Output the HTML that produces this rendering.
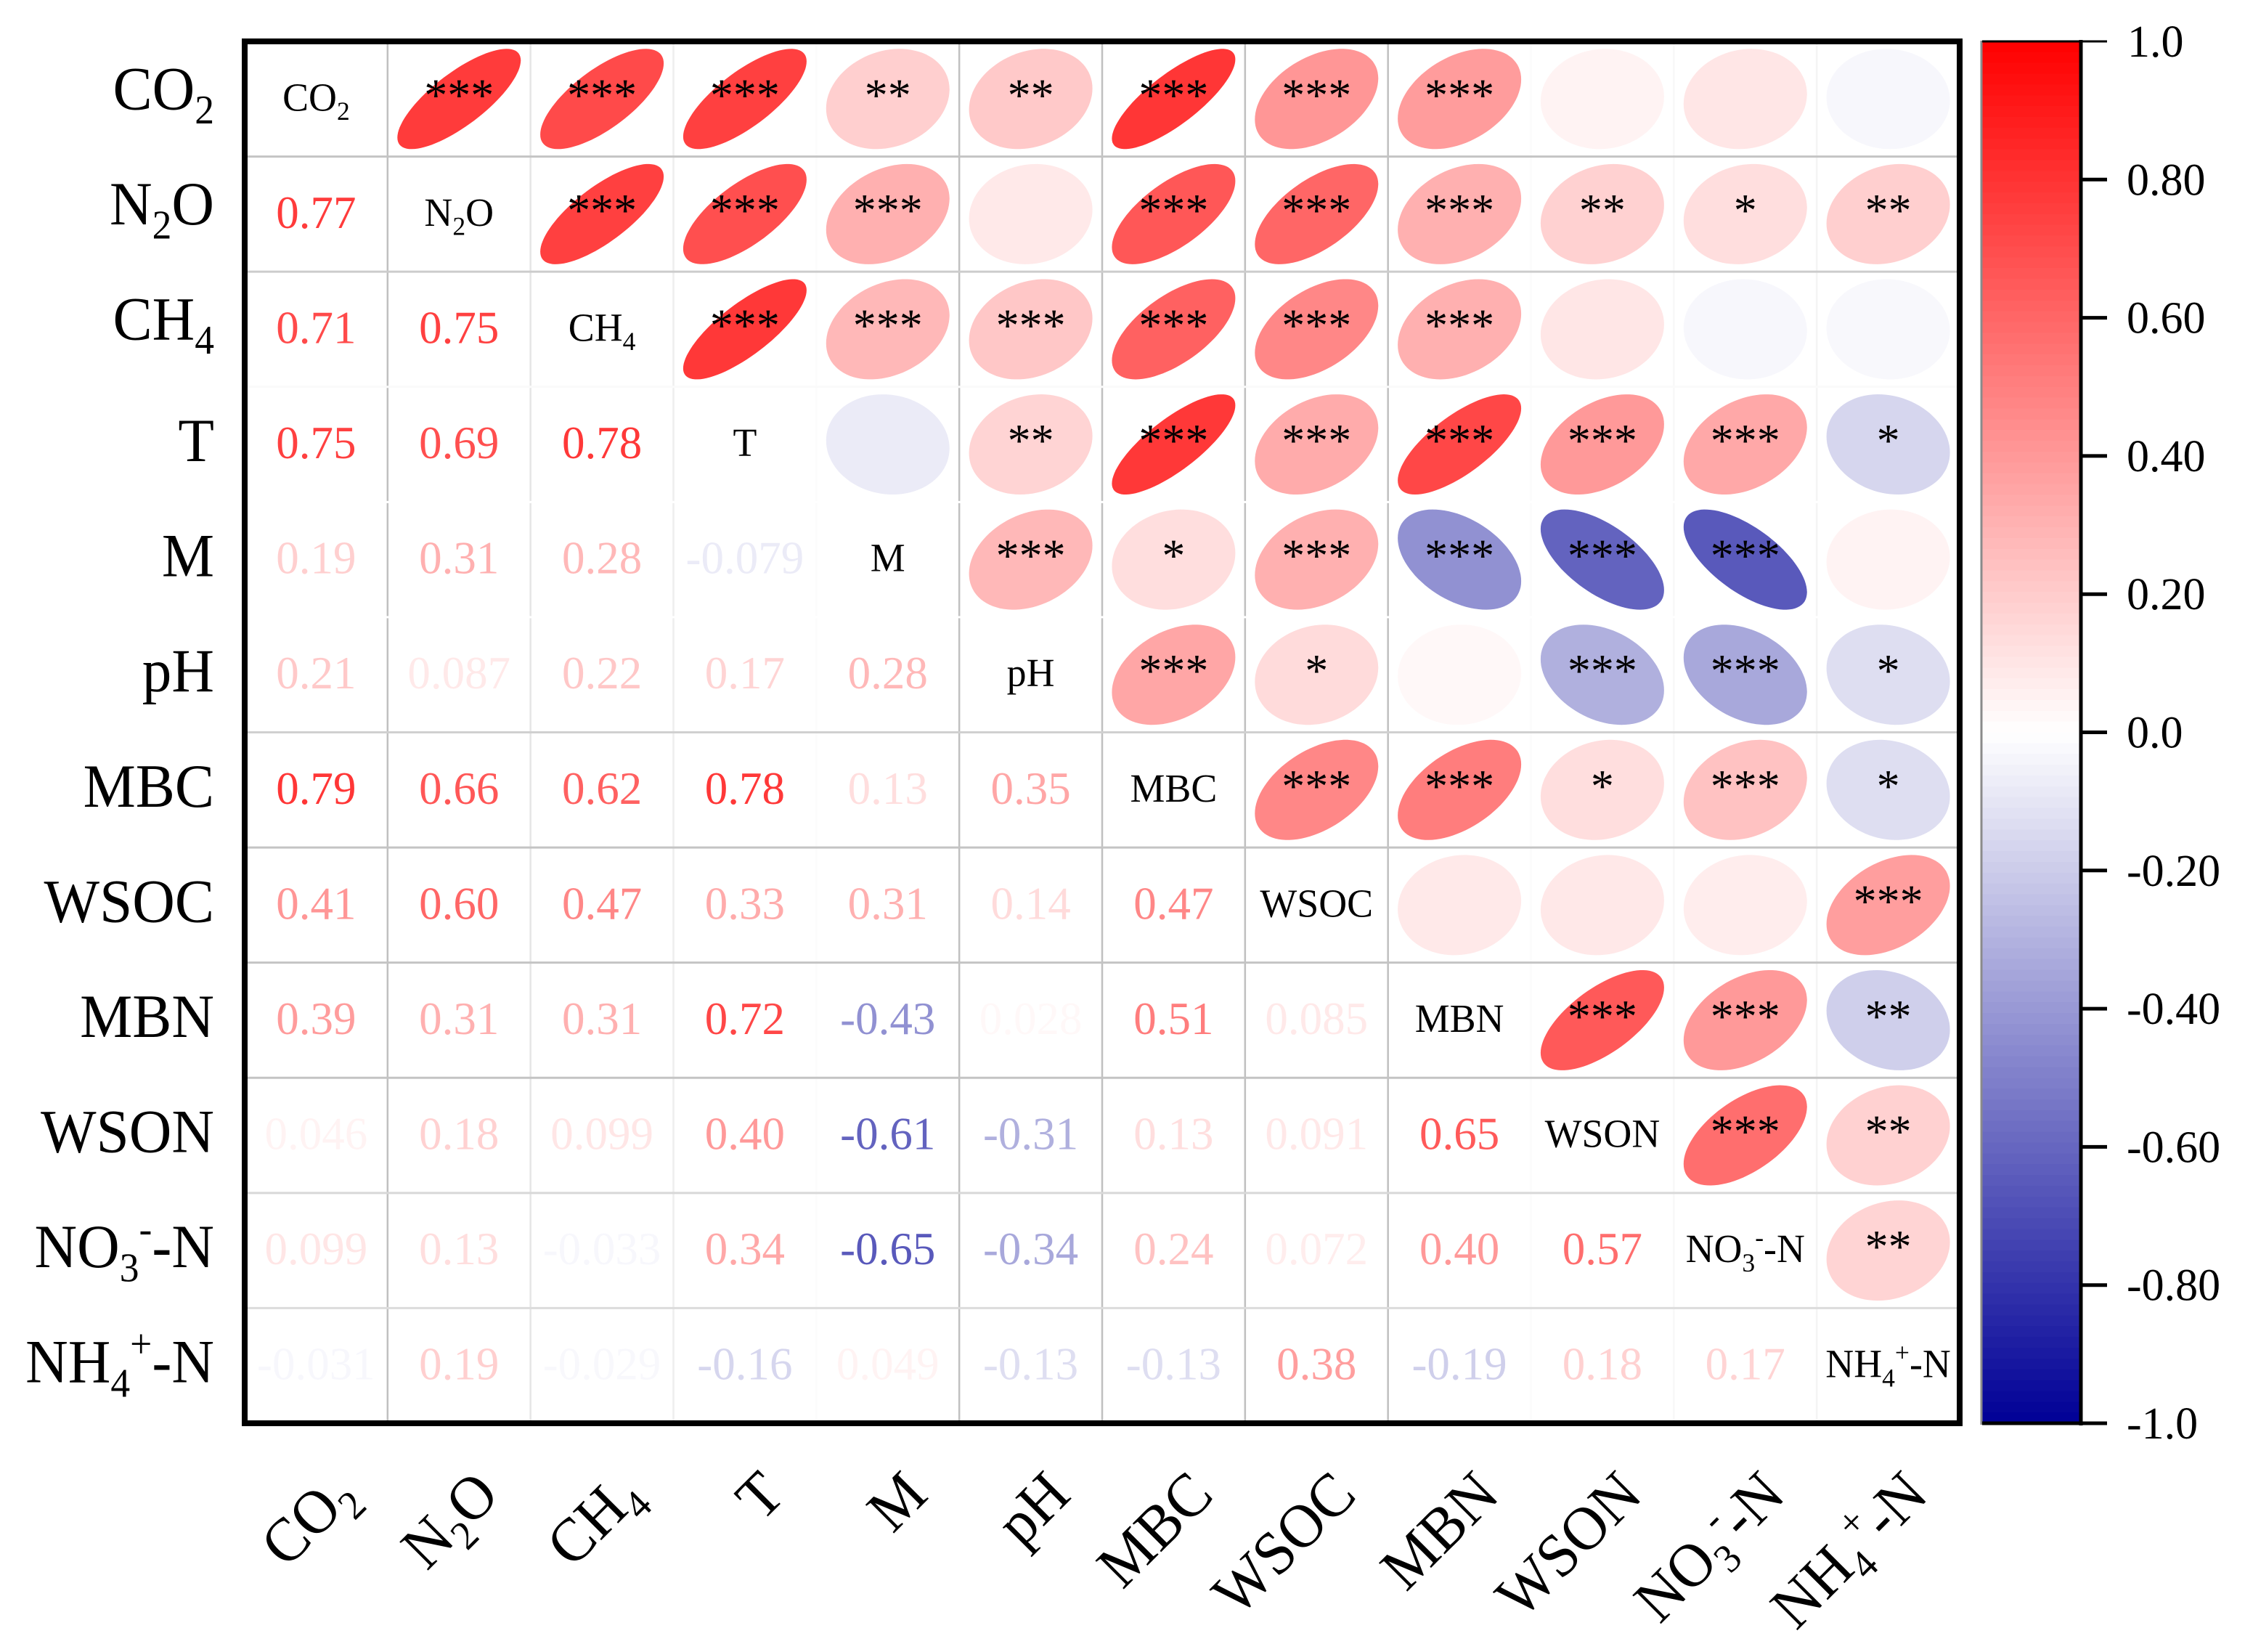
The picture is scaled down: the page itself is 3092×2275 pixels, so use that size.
<!DOCTYPE html>
<html lang="en">
<head>
<meta charset="utf-8">
<title>Correlation matrix</title>
<style>
html,body{margin:0;padding:0;background:#fff;}
svg{display:block;}
text{font-family:"Liberation Serif",serif;}
</style>
</head>
<body>
<svg id="chart" xmlns="http://www.w3.org/2000/svg" width="3092" height="2275" viewBox="0 0 3092 2275">
  <rect x="0" y="0" width="3092" height="2275" fill="#fff"></rect>
  <g id="grid"></g>
  <g id="ellipses"></g>
  <g id="stars"></g>
  <g id="values"></g>
  <g id="diag"></g>
  <g id="yaxis"></g>
  <g id="xaxis"></g>
  <rect x="337" y="57" width="2362" height="1903" fill="none" stroke="#000" stroke-width="8"></rect>
  <g id="colorbar"></g>
</svg>
<script>
// Variable labels ("_x" = subscript, "^x" = superscript)
const variables = ["CO_2","N_2O","CH_4","T","M","pH","MBC","WSOC","MBN","WSON","NO_3^--N","NH_4^+-N"];

// Lower-triangle correlation values, row by row
const corrN2O  = [0.77];
const corrCH4  = [0.71,0.75];
const corrT    = [0.75,0.69,0.78];
const corrM    = [0.19,0.31,0.28,-0.079];
const corrPH   = [0.21,0.087,0.22,0.17,0.28];
const corrMBC  = [0.79,0.66,0.62,0.78,0.13,0.35];
const corrWSOC = [0.41,0.60,0.47,0.33,0.31,0.14,0.47];
const corrMBN  = [0.39,0.31,0.31,0.72,-0.43,0.028,0.51,0.085];
const corrWSON = [0.046,0.18,0.099,0.40,-0.61,-0.31,0.13,0.091,0.65];
const corrNO3  = [0.099,0.13,-0.033,0.34,-0.65,-0.34,0.24,0.072,0.40,0.57];
const corrNH4  = [-0.031,0.19,-0.029,-0.16,0.049,-0.13,-0.13,0.38,-0.19,0.18,0.17];
const correlationRows = [[],corrN2O,corrCH4,corrT,corrM,corrPH,corrMBC,corrWSOC,corrMBN,corrWSON,corrNO3,corrNH4];

// Significance stars for the same pairs
const sigN2O  = [3];
const sigCH4  = [3,3];
const sigT    = [3,3,3];
const sigM    = [2,3,3,0];
const sigPH   = [2,0,3,2,3];
const sigMBC  = [3,3,3,3,1,3];
const sigWSOC = [3,3,3,3,3,1,3];
const sigMBN  = [3,3,3,3,3,0,3,0];
const sigWSON = [0,2,0,3,3,3,1,0,3];
const sigNO3  = [0,1,0,3,3,3,3,0,3,3];
const sigNH4  = [0,2,0,1,0,1,1,3,2,2,2];
const significanceRows = [[],sigN2O,sigCH4,sigT,sigM,sigPH,sigMBC,sigWSOC,sigMBN,sigWSON,sigNO3,sigNH4];

// Colorbar ticks
const colorbarTicks = [1,0.8,0.6,0.4,0.2,0,-0.2,-0.4,-0.6,-0.8,-1];
const colorbarTickLabels = ["1.0","0.80","0.60","0.40","0.20","0.0","-0.20","-0.40","-0.60","-0.80","-1.0"];

const NS = "http://www.w3.org/2000/svg";
const plotLeft = 337, plotTop = 57, plotRight = 2699, plotBottom = 1960;
const n = variables.length;
const cellW = (plotRight - plotLeft) / n;
const cellH = (plotBottom - plotTop) / n;
const xScale = c => plotLeft + cellW * (c + 0.5);
const yScale = r => plotTop + cellH * (r + 0.5);
const cbLeft = 2730, cbRight = 2866;
const cbScale = v => plotTop + (1 - v) / 2 * (plotBottom - plotTop);

function colorOf(v) {
  const a = Math.min(1, Math.abs(v));
  if (v >= 0) {
    const g = Math.round(255 * (1 - a));
    return `rgb(255,${g},${g})`;
  }
  const g = Math.round(255 * (1 - a));
  const b = Math.round(255 - a * 105);
  return `rgb(${g},${g},${b})`;
}
function fmt(v) {
  return Math.abs(v) < 0.1 && v !== 0 ? v.toFixed(3) : v.toFixed(2);
}
function el(tag, parent, props) {
  const e = document.createElementNS(NS, tag);
  for (const k in props) e.setAttribute(k, props[k]);
  parent.appendChild(e);
  return e;
}
function fillLabel(textEl, label, size) {
  const small = size * 0.66;
  const parts = label.match(/_.|\^.|[^_^]+/g);
  let shift = 0;
  parts.forEach(p => {
    const t = document.createElementNS(NS, "tspan");
    let target = 0, txt = p, fs = size;
    if (p[0] === "_") { target = size * 0.23; txt = p[1]; fs = small; }
    else if (p[0] === "^") { target = -size * 0.40; txt = p[1]; fs = small; }
    t.setAttribute("font-size", fs);
    t.setAttribute("dy", target - shift);
    shift = target;
    t.textContent = txt;
    textEl.appendChild(t);
  });
}

// Grid lines
const gridG = document.getElementById("grid");
const vShades = ["#c0c0c0","#e6e6e6","#eeeeee","#fcfcfc","#c0c0c0","#c0c0c0","#c0c0c0","#c0c0c0","#fcfcfc","#f8f8f8","#f4f4f4"];
const hShades = ["#c4c4c4","#cccccc","#fafafa","#ffffff","#ffffff","#d0d0d0","#c4c4c4","#c4c4c4","#c4c4c4","#d8d8d8","#dcdcdc"];
vShades.forEach((col, i) => {
  const x = plotLeft + cellW * (i + 1);
  const l = el("line", gridG, {x1:x, x2:x, y1:plotTop, y2:plotBottom, stroke:col, "stroke-width":2.5});
  
  
});
hShades.forEach((col, i) => {
  const y = plotTop + cellH * (i + 1);
  const l = el("line", gridG, {x1:plotLeft, x2:plotRight, y1:y, y2:y, stroke:col, "stroke-width":3});
  
  
});

// Marks
const ellipseG = document.getElementById("ellipses");
const starG = document.getElementById("stars");
const valueG = document.getElementById("values");
const rx = 85, ry = 69;
function ellipsePath(cx, cy, r) {
  const d = Math.acos(r);
  let s = "";
  for (let k = 0; k < 90; k++) {
    const t = k / 90 * 2 * Math.PI;
    const px = cx + rx * Math.cos(t);
    const py = cy - ry * Math.cos(t - d);
    s += (k ? "L" : "M") + px.toFixed(1) + " " + py.toFixed(1);
  }
  return s + "Z";
}
correlationRows.forEach((row, r) => {
  row.forEach((v, c) => {
    // lower triangle: printed value
    const t = el("text", valueG, {x:xScale(c), y:yScale(r) + 19, "text-anchor":"middle", "font-size":63, fill:colorOf(v)});
    t.textContent = fmt(v);
    
    
    // upper triangle: ellipse
    const p = el("path", ellipseG, {d:ellipsePath(xScale(r), yScale(c), v), fill:colorOf(v)});
    
    
    // upper triangle: stars
    const count = significanceRows[r][c];
    if (count > 0) {
      const s = el("text", starG, {x:xScale(r), y:yScale(c) + 16, "text-anchor":"middle", "font-size":64, fill:"#000"});
      s.textContent = "*".repeat(count);
      
      
    }
  });
});

// Labels
const diagG = document.getElementById("diag");
const yG = document.getElementById("yaxis");
const xG = document.getElementById("xaxis");
variables.forEach((name, i) => {
  const d = el("text", diagG, {transform:`translate(${xScale(i)},${yScale(i) + 16}) scale(0.98,1)`, "text-anchor":"middle", "font-size":55, fill:"#000"});
  fillLabel(d, name, 55);
  
  

  const yOffset = i < 3 ? 14 : 23;
  const y = el("text", yG, {transform:`translate(295,${yScale(i) + yOffset}) scale(0.955,1)`, "text-anchor":"end", "font-size":85, fill:"#000"});
  fillLabel(y, name, 85);
  
  

  const x = el("text", xG, {transform:`translate(${xScale(i) + 58},2062) rotate(-45) scale(0.96,1)`, "text-anchor":"end", "font-size":85, fill:"#000"});
  fillLabel(x, name, 85);
  
  
});

// Colorbar
const cbG = document.getElementById("colorbar");
const bands = 128;
for (let b = 0; b < bands; b++) {
  const vTop = 1 - 2 * b / bands;
  const vBot = 1 - 2 * (b + 1) / bands;
  const yTop = cbScale(vTop);
  const rect = el("rect", cbG, {x:cbLeft, y:yTop, width:cbRight - cbLeft, height:cbScale(vBot) - yTop + 0.6, fill:colorOf((vTop + vBot) / 2), "shape-rendering":"crispEdges"});
  
  
}
const cbLeftEdge = el("line", cbG, {x1:cbLeft - 1, x2:cbLeft - 1, y1:plotTop - 1, y2:plotBottom + 2, stroke:"#8a8a8a", "stroke-width":3});


const cbRightEdge = el("line", cbG, {x1:cbRight, x2:cbRight, y1:plotTop - 2, y2:plotBottom + 3, stroke:"#000", "stroke-width":5});


const cbTopEdge = el("line", cbG, {x1:cbLeft, x2:cbRight, y1:plotTop, y2:plotTop, stroke:"#000", "stroke-width":3});


const cbBottomEdge = el("line", cbG, {x1:cbLeft, x2:cbRight, y1:plotBottom, y2:plotBottom, stroke:"#000", "stroke-width":5});


colorbarTicks.forEach((v, i) => {
  const y = cbScale(v);
  const tick = el("line", cbG, {x1:cbRight, x2:2902, y1:y, y2:y, stroke:"#000", "stroke-width":i === 0 ? 3 : 5});
  
  
  const label = el("text", cbG, {x:v === 1 ? 2930 : 2929, y:y + 21, "font-size":62, fill:"#000"});
  label.textContent = colorbarTickLabels[i];
  
  
});
</script>
</body>
</html>
